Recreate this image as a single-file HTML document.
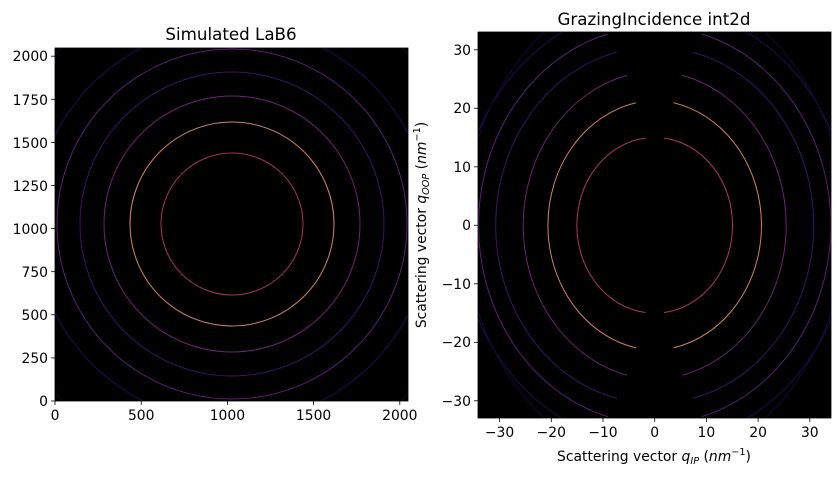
<!DOCTYPE html>
<html><head><meta charset="utf-8"><style>
html,body{margin:0;padding:0;background:#fff}
svg{display:block;font-family:"DejaVu Sans","Liberation Sans",sans-serif}
</style></head><body>
<svg width="839" height="478" viewBox="0 0 839 478" xmlns="http://www.w3.org/2000/svg">
<defs>
<clipPath id="c1"><rect x="55" y="48" width="353" height="353"/></clipPath>
<clipPath id="c2"><rect x="478" y="32" width="353" height="386"/></clipPath>
</defs>
<rect x="55" y="48" width="353" height="353" fill="#000"/>
<g clip-path="url(#c1)" fill="none" stroke-width="1">
<circle cx="232" cy="224" r="71" stroke="#a8345e"/>
<circle cx="232" cy="224" r="102" stroke="#d4845a"/>
<circle cx="232" cy="224" r="128" stroke="#6e2276"/>
<circle cx="232" cy="224" r="152" stroke="#3a1468"/>
<circle cx="232" cy="224" r="175" stroke="#5e1c78"/>
<circle cx="232" cy="224" r="198" stroke="#220d52"/>
<circle cx="232" cy="224" r="245" stroke="#160838"/>
</g>
<rect x="55" y="48" width="353" height="353" fill="none" stroke="#000" stroke-width="0.8"/>
<text x="231" y="40" font-size="16.7" text-anchor="middle">Simulated LaB6</text>
<g stroke="#000" stroke-width="0.8">
<line x1="55" y1="401" x2="55" y2="405"/><line x1="141.2" y1="401" x2="141.2" y2="405"/><line x1="227.4" y1="401" x2="227.4" y2="405"/><line x1="313.6" y1="401" x2="313.6" y2="405"/><line x1="399.8" y1="401" x2="399.8" y2="405"/>
<line x1="51" y1="401" x2="55" y2="401"/><line x1="51" y1="357.9" x2="55" y2="357.9"/><line x1="51" y1="314.8" x2="55" y2="314.8"/><line x1="51" y1="271.7" x2="55" y2="271.7"/><line x1="51" y1="228.6" x2="55" y2="228.6"/><line x1="51" y1="185.5" x2="55" y2="185.5"/><line x1="51" y1="142.4" x2="55" y2="142.4"/><line x1="51" y1="99.3" x2="55" y2="99.3"/><line x1="51" y1="56.2" x2="55" y2="56.2"/>
</g>
<g font-size="13.9" fill="#000" text-anchor="middle">
<text x="55" y="420">0</text><text x="141.2" y="420">500</text><text x="227.4" y="420">1000</text><text x="313.6" y="420">1500</text><text x="399.8" y="420">2000</text>
</g>
<g font-size="13.9" fill="#000" text-anchor="end">
<text x="48" y="406">0</text><text x="48" y="363">250</text><text x="48" y="320">500</text><text x="48" y="277">750</text><text x="48" y="234">1000</text><text x="48" y="191">1250</text><text x="48" y="148">1500</text><text x="48" y="105">1750</text><text x="48" y="61">2000</text>
</g>
<rect x="478" y="32" width="353" height="386" fill="#000"/>
<g clip-path="url(#c2)" fill="none" stroke-width="1">
<path d="M664.0,138.1 A77.6,87.8 0 0 1 664.0,312.5 M645.4,138.1 A77.6,87.8 0 0 0 645.4,312.5" stroke="#b0365f"/>
<path d="M673.3,102.7 A110.6,125.2 0 0 1 673.3,347.9 M636.1,102.7 A110.6,125.2 0 0 0 636.1,347.9" stroke="#d4845a"/>
<path d="M682.4,75.4 A136.5,154.4 0 0 1 682.4,375.2 M627.0,75.4 A136.5,154.4 0 0 0 627.0,375.2" stroke="#6e2276"/>
<path d="M692.4,52.2 A157.2,177.8 0 0 1 692.4,398.4 M617.0,52.2 A157.2,177.8 0 0 0 617.0,398.4" stroke="#3a1468"/>
<path d="M701.7,34.0 A175.3,198.3 0 0 1 701.7,416.6 M607.7,34.0 A175.3,198.3 0 0 0 607.7,416.6" stroke="#5e1c78"/>
<path d="M711.6,16 A192.8,218.2 0 0 1 711.6,434.6 M597.8,16 A192.8,218.2 0 0 0 597.8,434.6" stroke="#220d52"/>
<path d="M722,0 A222.3,251.6 0 0 1 722,450 M587.4,0 A222.3,251.6 0 0 0 587.4,450" stroke="#160838"/>
</g>
<rect x="478" y="32" width="353" height="386" fill="none" stroke="#000" stroke-width="0.8"/>
<text x="654" y="25" font-size="16.7" text-anchor="middle">GrazingIncidence int2d</text>
<g stroke="#000" stroke-width="0.8">
<line x1="499.6" y1="418" x2="499.6" y2="422"/><line x1="551.3" y1="418" x2="551.3" y2="422"/><line x1="603" y1="418" x2="603" y2="422"/><line x1="654.7" y1="418" x2="654.7" y2="422"/><line x1="706.4" y1="418" x2="706.4" y2="422"/><line x1="758.1" y1="418" x2="758.1" y2="422"/><line x1="809.8" y1="418" x2="809.8" y2="422"/>
<line x1="474" y1="400.8" x2="478" y2="400.8"/><line x1="474" y1="342.3" x2="478" y2="342.3"/><line x1="474" y1="283.8" x2="478" y2="283.8"/><line x1="474" y1="225.3" x2="478" y2="225.3"/><line x1="474" y1="166.8" x2="478" y2="166.8"/><line x1="474" y1="108.3" x2="478" y2="108.3"/><line x1="474" y1="49.8" x2="478" y2="49.8"/>
</g>
<g font-size="13.9" text-anchor="middle">
<text x="499.6" y="437">−30</text><text x="551.3" y="437">−20</text><text x="603" y="437">−10</text><text x="654.7" y="437">0</text><text x="706.4" y="437">10</text><text x="758.1" y="437">20</text><text x="809.8" y="437">30</text>
</g>
<g font-size="13.9" text-anchor="end">
<text x="471" y="406">−30</text><text x="471" y="347">−20</text><text x="471" y="289">−10</text><text x="471" y="230">0</text><text x="471" y="172">10</text><text x="471" y="113">20</text><text x="471" y="55">30</text>
</g>
<text x="654" y="461" font-size="13.9" text-anchor="middle">Scattering vector <tspan font-style="italic">q</tspan><tspan font-style="italic" font-size="9.7" dy="3">IP</tspan><tspan dy="-3"> (</tspan><tspan font-style="italic">nm</tspan><tspan font-size="9.7" dy="-6">−1</tspan><tspan dy="6">)</tspan></text>
<text transform="translate(426,225) rotate(-90)" font-size="13.9" text-anchor="middle">Scattering vector <tspan font-style="italic">q</tspan><tspan font-style="italic" font-size="9.7" dy="3">OOP</tspan><tspan dy="-3"> (</tspan><tspan font-style="italic">nm</tspan><tspan font-size="9.7" dy="-6">−1</tspan><tspan dy="6">)</tspan></text>
</svg>
</body></html>
